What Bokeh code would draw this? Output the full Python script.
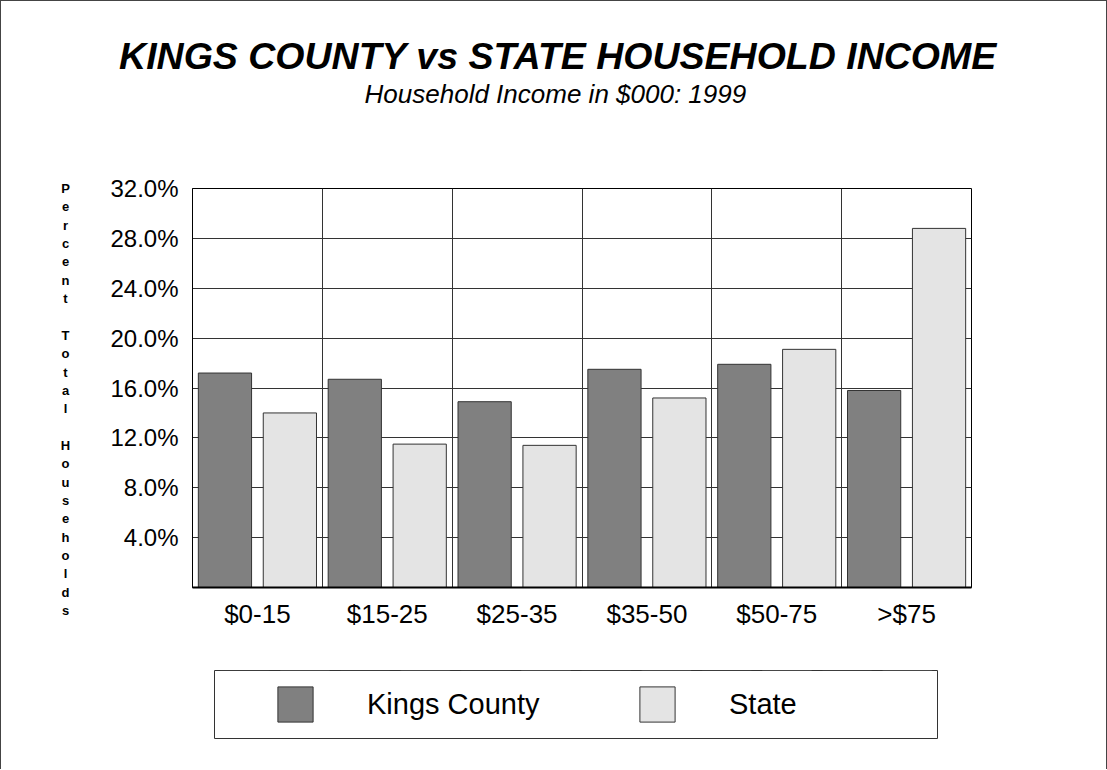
from bokeh.plotting import figure
from bokeh.models import (ColumnDataSource, FactorRange, Range1d, FixedTicker,
                          PrintfTickFormatter, Label, Legend, LegendItem, Spacer)
from bokeh.transform import dodge
from bokeh.layouts import column, row
from bokeh.embed import file_html
from bokeh.resources import INLINE

# ---------------- data ----------------
categories = ["$0-15", "$15-25", "$25-35", "$35-50", "$50-75", ">$75"]
kings_county = [17.2, 16.7, 14.9, 17.5, 17.9, 15.8]
state = [14.0, 11.5, 11.4, 15.2, 19.1, 28.8]
y_ticks = [4.0, 8.0, 12.0, 16.0, 20.0, 24.0, 28.0, 32.0]
series_names = ["Kings County", "State"]
series_colors = ["#808080", "#e4e4e4"]
title_text = "KINGS COUNTY vs STATE HOUSEHOLD INCOME"
subtitle_text = "Household Income in $000:  1999"
y_label = "Percent Total Households"

FONT = "Liberation Sans"
TOTAL_W = 1105
Y_MAX = 32.0

# ---------------- layout geometry (pixels) ----------------
HEAD_H = 140            # header strip with the titles
SIDE_W = 100            # strip holding the stacked y label
MAIN_W = TOTAL_W - SIDE_W
MAIN_H = 528
BL, BR, BT, BB = 91, 135, 47, 82


def plain_fig(w, h, xr, yr):
    f = figure(width=w, height=h, x_range=xr, y_range=yr, output_backend="svg",
               toolbar_location=None, tools="", x_axis_type=None, y_axis_type=None,
               min_border=0, title=None)
    f.outline_line_color = None
    f.background_fill_color = "white"
    f.border_fill_color = "white"
    return f


# ---------------- header (titles) ----------------
head = plain_fig(TOTAL_W, HEAD_H, Range1d(0, TOTAL_W), Range1d(HEAD_H, 0))
head.add_layout(Label(x=556.5, y=54.3, text=title_text, text_align="center",
                      text_baseline="alphabetic", text_font=FONT,
                      text_font_size="37.5px", text_font_style="bold italic",
                      text_color="black"))
head.add_layout(Label(x=557.5, y=92.8, text=subtitle_text, text_align="center",
                      text_baseline="alphabetic", text_font=FONT,
                      text_font_size="26px", text_font_style="italic",
                      text_color="black"))

# ---------------- stacked y label ----------------
side = plain_fig(SIDE_W, MAIN_H, Range1d(0, SIDE_W), Range1d(MAIN_H, 0))
step = 18.35
for i, ch in enumerate(y_label):
    if ch == " ":
        continue
    side.add_layout(Label(x=64, y=BT + i * step, text=ch, text_align="center",
                          text_baseline="middle", text_font=FONT,
                          text_font_size="13px", text_font_style="bold",
                          text_color="black"))

# ---------------- main chart ----------------
src = ColumnDataSource(data=dict(cat=categories, kings=kings_county, state=state))

p = figure(width=MAIN_W, height=MAIN_H, x_range=FactorRange(*categories),
           y_range=Range1d(0, Y_MAX), output_backend="svg",
           toolbar_location=None, tools="", title=None,
           min_border_left=BL, min_border_right=BR,
           min_border_top=BT, min_border_bottom=BB)
p.background_fill_color = "white"
p.border_fill_color = "white"
p.outline_line_color = "black"
p.outline_line_width = 1

bar_w = 0.41
p.vbar(x=dodge("cat", -0.25, range=p.x_range), top="kings", width=bar_w,
       source=src, fill_color=series_colors[0], line_color="#333333", line_width=1)
p.vbar(x=dodge("cat", 0.25, range=p.x_range), top="state", width=bar_w,
       source=src, fill_color=series_colors[1], line_color="#333333", line_width=1)

p.yaxis.ticker = FixedTicker(ticks=y_ticks)
p.yaxis.formatter = PrintfTickFormatter(format="%.1f%%")
p.yaxis.major_tick_out = 0
p.yaxis.major_tick_in = 0
p.yaxis.minor_tick_out = 0
p.yaxis.minor_tick_in = 0
p.yaxis.major_label_standoff = 14
p.yaxis.major_label_text_font = FONT
p.yaxis.major_label_text_font_size = "24px"
p.yaxis.major_label_text_color = "black"
p.yaxis.axis_line_color = "black"

p.xaxis.major_tick_out = 0
p.xaxis.major_tick_in = 0
p.xaxis.major_label_standoff = 11
p.xaxis.major_label_text_font = FONT
p.xaxis.major_label_text_font_size = "26px"
p.xaxis.major_label_text_color = "black"
p.xaxis.axis_line_color = "black"
p.xaxis.axis_line_width = 2

p.ygrid.ticker = FixedTicker(ticks=y_ticks)
p.ygrid.grid_line_color = "#333333"
p.ygrid.grid_line_width = 1
p.xgrid.ticker = FixedTicker(ticks=[float(i) for i in range(1, len(categories))])
p.xgrid.grid_line_color = "#333333"
p.xgrid.grid_line_width = 1

# ---------------- legend panel ----------------
LW, LH = 725, 70
leg = figure(width=LW, height=LH, x_range=FactorRange(*categories),
             y_range=Range1d(-2, -1), output_backend="svg", toolbar_location=None,
             tools="", x_axis_type=None, y_axis_type=None, title=None,
             min_border_left=1, min_border_right=1, min_border_top=1,
             min_border_bottom=1)
leg.outline_line_color = "#333333"
leg.outline_line_width = 1
leg.background_fill_color = "white"
leg.border_fill_color = "white"
# the same series drawn into the legend panel (outside its visible range) so that
# the legend swatches come from real renderers
r_k = leg.vbar(x=dodge("cat", -0.25, range=leg.x_range), top="kings", width=bar_w,
               source=src, fill_color=series_colors[0], line_color="#333333")
r_s = leg.vbar(x=dodge("cat", 0.25, range=leg.x_range), top="state", width=bar_w,
               source=src, fill_color=series_colors[1], line_color="#333333")
legend = Legend(items=[LegendItem(label=series_names[0], renderers=[r_k]),
                       LegendItem(label=series_names[1], renderers=[r_s])],
                location=(59, 12), orientation="horizontal",
                glyph_width=44, glyph_height=44, label_standoff=50,
                label_width=175, spacing=93, padding=0,
                border_line_color=None, background_fill_alpha=0,
                label_text_font=FONT, label_text_font_size="29px",
                label_text_color="black")
leg.add_layout(legend)

layout = column(
    head,
    row(column(side), column(p)),
    row(Spacer(width=212, height=LH), leg),
    Spacer(width=TOTAL_W, height=30),
    styles={"border-left": "1px solid #444", "border-top": "1px solid #444",
            "border-right": "1px solid #444"},
)

open("out.html", "w").write(file_html(layout, INLINE))
